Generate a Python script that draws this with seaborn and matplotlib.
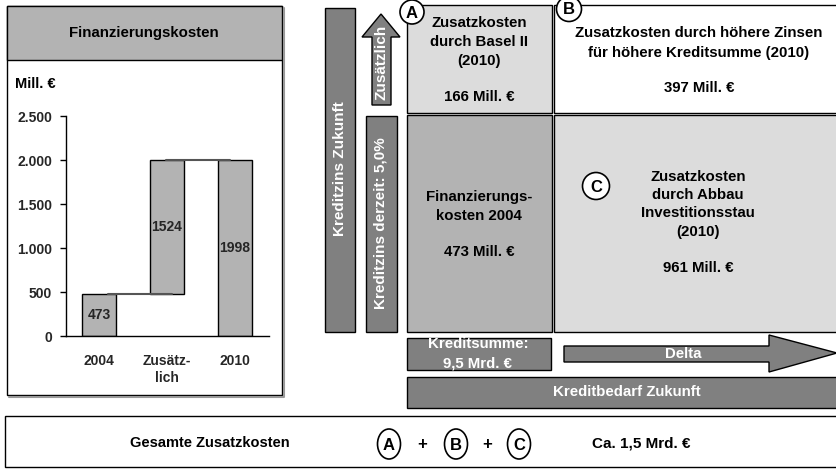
import matplotlib
matplotlib.use('Agg')
import matplotlib.pyplot as plt
import matplotlib.patches as mpatches
import seaborn as sns
import pandas as pd

# Daten Finanzierungskosten (Mill. EUR)
kategorien = ['2004', 'Zusätz-\nlich', '2010']
werte = [473, 1524, 1998]
basis = [0, 473, 0]
y_ticks = [0, 500, 1000, 1500, 2000, 2500]
y_labels = ['0', '500', '1.000', '1.500', '2.000', '2.500']

# Texte der Kaesten
text_a = ['Zusatzkosten', 'durch Basel II', '(2010)', '166 Mill. €']
text_b = ['Zusatzkosten durch höhere Zinsen', 'für höhere Kreditsumme (2010)', '397 Mill. €']
text_2004 = ['Finanzierungs-', 'kosten 2004', '473 Mill. €']
text_c = ['Zusatzkosten', 'durch Abbau', 'Investitionsstau', '(2010)', '961 Mill. €']
text_summe = ['Kreditsumme:', '9,5 Mrd. €']

dunkel = '#808080'
mittel = '#b3b3b3'
hell = '#dcdcdc'
FS = 10.8

sns.set_theme(style='white')
plt.rcParams['font.family'] = ['Liberation Sans', 'DejaVu Sans']
plt.rcParams['font.weight'] = 'bold'

fig = plt.figure(figsize=(8.37, 4.69), dpi=100)

# Hintergrund-Achse in Pixelkoordinaten
bg = fig.add_axes([0, 0, 1, 1])
bg.set_xlim(0, 837)
bg.set_ylim(469, 0)
bg.axis('off')


def rect(x0, y0, x1, y1, fc, ec='black', lw=1.0):
    bg.add_patch(mpatches.Rectangle((x0, y0), x1 - x0, y1 - y0, facecolor=fc,
                                    edgecolor=ec, linewidth=lw))


def poly(pts, fc):
    bg.add_patch(mpatches.Polygon(pts, closed=True, facecolor=fc, edgecolor='black', linewidth=1))


def txt(x, y, s, color='black', size=FS, **kw):
    bg.text(x, y, s, color=color, fontsize=size, fontweight='bold', ha=kw.pop('ha', 'center'),
            va='center', **kw)


def zeilen(x, ys, lines, **kw):
    for y, s in zip(ys, lines):
        txt(x, y, s, **kw)


# linkes Panel
bg.plot([9, 284, 284], [397, 397, 8], color='#999999', lw=1.5)
rect(7, 6, 282, 395, 'white')
rect(7, 6, 282, 60, mittel)
txt(144, 33, 'Finanzierungskosten')
txt(15, 84, 'Mill. €', size=10.5, ha='left')

# rechtes Schema
rect(325, 8, 355, 332, dunkel)
poly([(372, 105), (372, 37), (362, 37), (381, 14), (400, 37), (391, 37), (391, 105)], dunkel)
rect(366, 116, 397, 332, dunkel)
rect(407, 5, 552, 113, hell)
rect(554, 5, 845, 113, 'white')
rect(407, 115, 552, 332, mittel)
rect(554, 115, 845, 332, hell)
rect(407, 338, 551, 370, dunkel)
poly([(564, 346), (769, 346), (769, 335), (837, 353), (769, 372), (769, 362), (564, 362)], dunkel)
rect(407, 377, 845, 408, dunkel)
rect(5, 416, 845, 467, 'white')

txt(340, 169, 'Kreditzins Zukunft', color='white', size=11, rotation=90)
txt(382, 62, 'Zusätzlich', color='white', size=11, rotation=90)
txt(381, 223, 'Kreditzins derzeit: 5,0%', color='white', size=11, rotation=90)

zeilen(479, [23, 42, 61, 97], text_a)
zeilen(699, [33, 53, 88], text_b)
zeilen(479, [197, 216, 252], text_2004)
zeilen(698, [177, 195, 213, 232, 268], text_c)
zeilen(478, [344, 363], text_summe, color='white')
txt(683, 354, 'Delta', color='white')
txt(627, 392, 'Kreditbedarf Zukunft', color='white')

for (cx, cy, r), buchstabe in zip([(412, 12, 12), (569, 9, 12.5), (596, 186, 13.5)], 'ABC'):
    bg.add_patch(mpatches.Circle((cx, cy), r, facecolor='white', edgecolor='black', linewidth=1.2))
    txt(cx, cy + 1, buchstabe, size=12)

# Gesamtzeile
txt(210, 443, 'Gesamte Zusatzkosten', size=10.5)
for cx, buchstabe in zip([389, 456, 519], 'ABC'):
    bg.add_patch(mpatches.Ellipse((cx, 444), 23, 30, facecolor='white', edgecolor='black', linewidth=1.2))
    txt(cx, 445, buchstabe, size=12)
txt(422, 445, '+', size=12)
txt(487, 445, '+', size=12)
txt(592, 443, 'Ca. 1,5 Mrd. €', size=11, ha='left')

# Wasserfall-Diagramm
ax = fig.add_axes([66 / 837, 1 - 336 / 469, (269 - 66) / 837, 220 / 469])
ax.patch.set_alpha(0)
df = pd.DataFrame({'kategorie': kategorien, 'wert': werte})
sns.barplot(data=df, x='kategorie', y='wert', bottom=basis, ax=ax, color=mittel,
            edgecolor='black', linewidth=1, width=0.5, saturation=1)
ax.plot([0.13, 1.07], [basis[1], basis[1]], color='#555555', lw=1.5, zorder=3)
ax.plot([0.99, 1.93], [basis[1] + werte[1], basis[1] + werte[1]], color='#555555', lw=1.5, zorder=3)
for i, (b, w) in enumerate(zip(basis, werte)):
    ax.text(i, b + w / 2, str(w), ha='center', va='center', fontsize=10, fontweight='bold')

ax.set_xlim(-0.485, 2.5)
ax.set_ylim(0, 2500)
ax.set_yticks(y_ticks)
ax.set_yticklabels(y_labels, fontsize=10, fontweight='bold')
ax.set_xticks(range(len(kategorien)))
ax.set_xticklabels(kategorien, fontsize=10, fontweight='bold', linespacing=1.3)
ax.tick_params(axis='y', left=True, length=4, width=1, color='black', pad=6)
ax.tick_params(axis='x', bottom=False, length=0, pad=13)
ax.set_xlabel('')
ax.set_ylabel('')
sns.despine(ax=ax)
for s in ['left', 'bottom']:
    ax.spines[s].set_color('black')
    ax.spines[s].set_linewidth(1)

fig.savefig('out.png', dpi=100)
